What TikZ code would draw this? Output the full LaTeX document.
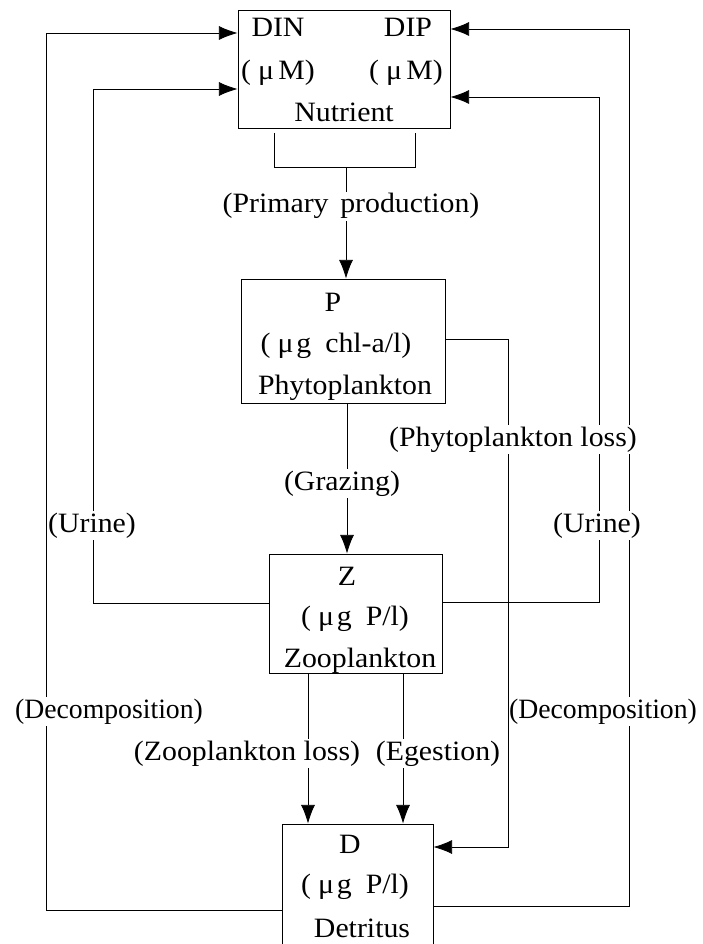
\documentclass[tikz,border=0pt]{standalone}
\usepackage{fontspec}
\setmainfont{Liberation Serif}[FakeStretch=1.065]
\newfontfamily\narrowserif{Liberation Serif}[FakeStretch=0.99]
\usetikzlibrary{arrows.meta}
\begin{document}
\begin{tikzpicture}[x=0.75pt,y=-0.75pt,
  every node/.style={font=\fontsize{21}{25}\selectfont},
  box/.style={draw, line width=0.7pt, inner sep=0pt},
  txt/.style={anchor=base, inner sep=0pt},
  lab/.style={anchor=base, fill=white, inner xsep=0pt, inner ysep=1.5pt},
  narrowlab/.style={lab, font=\narrowserif\fontsize{21}{25}\selectfont},
  flow/.style={line width=0.6pt},
  arr/.style={flow, -{Latex[length=14pt,width=10.5pt]}}]
\useasboundingbox (0,0) rectangle (702,944);

% boxes
\node[box, minimum width=159pt, minimum height=88.5pt] (N) at (344,69) {};
\node[box, minimum width=153pt, minimum height=93pt] (P) at (343,341) {};
\node[box, minimum width=129.75pt, minimum height=89.25pt] (Z) at (355.5,613.5) {};
\node[box, minimum width=113.25pt, minimum height=94.5pt] (D) at (357.5,887) {};

% box texts
\node[txt] (tDIN) at (278,37) {DIN};
\node[txt] (tDIP) at (408,37) {DIP};
\node[txt] (tNuL) at (278,80) {(\hspace{.25em}μ\hspace{.15em}M)};
\node[txt] (tNuR) at (406,80) {(\hspace{.25em}μ\hspace{.15em}M)};
\node[txt] (tNut) at (344,122) {Nutrient};
\node[txt] (tP) at (333,311) {P};
\node[txt] (tPu) at (336,353) {(\hspace{.25em}μ\hspace{.1em}g\hspace{.5em}chl-a/l)};
\node[txt] (tPn) at (345,394) {Phytoplankton};
\node[txt] (tZ) at (347,585) {Z};
\node[txt] (tZu) at (355,625) {(\hspace{.25em}μ\hspace{.1em}g\hspace{.5em}P/l)};
\node[txt] (tZn) at (360,667) {Zooplankton};
\node[txt] (tD) at (350,853) {D};
\node[txt] (tDu) at (355,893) {(\hspace{.25em}μ\hspace{.1em}g\hspace{.5em}P/l)};
\node[txt] (tDn) at (362,937) {Detritus};

% waypoints
\coordinate (c1) at (46,910);
\coordinate (c2) at (46,33);
\coordinate (c3) at (93,603);
\coordinate (c4) at (93,89);
\coordinate (c5) at (629,906);
\coordinate (c6) at (629,29);
\coordinate (c7) at (599,602);
\coordinate (c8) at (599,97);
\coordinate (b1) at (274,133);
\coordinate (b2) at (274,167);
\coordinate (b3) at (415,167);
\coordinate (b4) at (415,133);
\coordinate (bs) at (346,167);
\coordinate (g) at (347,0);
\coordinate (zl) at (308,0);
\coordinate (eg) at (403,0);
\coordinate (c9) at (508,339);
\coordinate (c10) at (508,847);

% connectors
\draw[arr] (D.west |- c1) -- (c1) -- (c2) -- (N.west |- c2);
\draw[arr] (Z.west |- c3) -- (c3) -- (c4) -- (N.west |- c4);
\draw[arr] (D.east |- c5) -- (c5) -- (c6) -- (N.east |- c6);
\draw[arr] (Z.east |- c7) -- (c7) -- (c8) -- (N.east |- c8);
\draw[flow] (b1) -- (b2) -- (b3) -- (b4);
\draw[arr] (bs) -- (P.north -| bs);
\draw[arr] (P.south -| g) -- (Z.north -| g);
\draw[arr] (Z.south -| zl) -- (D.north -| zl);
\draw[arr] (Z.south -| eg) -- (D.north -| eg);

% labels
\node[lab] (lPP) at (351,213) {(Primary\hspace{.15em} production)};
\node[lab] (lGr) at (342,490) {(Grazing)};
\node[lab] (lUL) at (92,532) {(Urine)};
\node[lab] (lUR) at (597,532) {(Urine)};
\node[narrowlab] (lDL) at (109,718) {(Decomposition)};
\node[narrowlab] (lDR) at (603,718) {(Decomposition)};
\node[lab] (lZL) at (247,760) {(Zooplankton loss)};
\node[lab] (lEg) at (438,760) {(Egestion)};

% phytoplankton loss
\draw[arr] (P.east |- c9) -- (c9) -- (c10) -- (D.east |- c10);
\node[lab] (lPL) at (513,446) {(Phytoplankton loss)};
\end{tikzpicture}
\end{document}
